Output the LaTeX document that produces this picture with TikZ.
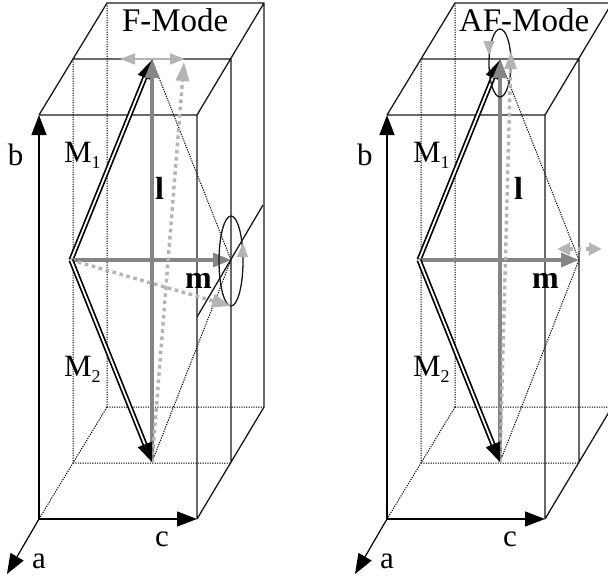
\documentclass[tikz,border=0pt]{standalone}
\usepackage{fontspec}
\setmainfont{Liberation Serif}
\usetikzlibrary{arrows.meta,shapes.geometric}
\definecolor{midgray}{HTML}{858585}
\definecolor{lightgray2}{HTML}{B4B4B4}
\tikzset{
  solidline/.style={draw=black!90,line width=1.3pt},
  dotline/.style={draw=black,line width=1pt,dash pattern=on 1.2pt off 1.2pt},
  axisarrow/.style={draw=black,line width=1.2pt,-{Triangle[length=20pt,width=15pt]}},
  momentarrow/.style={draw=black,line width=1.7pt,double=white,double distance=1.8pt,-{Triangle[length=19pt,width=15pt]}},
  grayarrow/.style={draw=midgray,line width=3.2pt,-{Triangle[length=18pt,width=14pt]}},
  lightdots/.style={draw=lightgray2,line width=3.4pt,dash pattern=on 3.6pt off 3.6pt,-{Triangle[length=19pt,width=13pt]}},
  lightthin/.style={draw=lightgray2,line width=1.5pt},
  lighthead/.style={-{Triangle[length=14pt,width=11pt]}},
  lab/.style={inner sep=0pt,outer sep=0pt,anchor=base west,font=\fontsize{31}{31}\selectfont},
  modelab/.style={lab,font=\fontsize{33}{33}\selectfont},
  boldlab/.style={lab,font=\fontsize{32}{32}\selectfont\bfseries},
  orbit/.style={draw=black!90,line width=1.3pt,shape=ellipse,inner sep=0pt}
}
\newcommand{\sbs}[1]{\raisebox{-6pt}{\fontsize{18}{18}\selectfont #1}}
\newcommand{\cellbox}[2]{%
  \begin{scope}[xshift=#2pt]
  \coordinate (#1o) at (39,519);
  \coordinate (#1c) at (197,519);
  \coordinate (#1b) at (39,115);
  \coordinate (#1bc) at (197,115);
  \coordinate (#1mt) at (73,59);
  \coordinate (#1mtr) at (231,59);
  \coordinate (#1mb) at (73,463);
  \coordinate (#1mbr) at (231,463);
  \coordinate (#1kt) at (107,3);
  \coordinate (#1ktr) at (264,3);
  \coordinate (#1kb) at (107,407);
  \coordinate (#1kbr) at (264,407);
  \coordinate (#1a) at (7,574);
  \coordinate (#1L) at (71,260);
  \coordinate (#1R) at (231,260);
  \coordinate (#1T) at (152,60);
  \coordinate (#1B) at (152,462);
  \draw[dotline] (#1kt) -- (#1kb) (#1mt) -- (#1mb) (#1o) -- (#1kb) (#1mb) -- (#1mbr) (#1kb) -- (#1kbr);
  \draw[dotline] (#1T) -- (#1R) -- (#1B);
  \draw[solidline] (#1b) -- (#1bc) -- (#1c) (#1b) -- (#1kt) -- (#1ktr) -- (#1kbr) -- (#1c)
     (#1mt) -- (#1mtr) -- (#1mbr) (#1bc) -- (#1ktr);
  \draw[axisarrow] (#1o) -- (#1b);
  \draw[axisarrow] (#1o) -- (#1c);
  \draw[axisarrow] (#1o) -- (#1a);
  \draw[momentarrow] (#1L) -- (#1T);
  \draw[grayarrow] (#1B) -- (#1T);
  \draw[grayarrow] (#1L) -- (#1R);
  \end{scope}}
\begin{document}
\begin{tikzpicture}[x=1pt,y=-1pt]
\useasboundingbox (0,0) rectangle (608,581);
\fill[white] (0,0) rectangle (608,581);
\clip (0,0) rectangle (608,581);

% ---------- F-mode ----------
\cellbox{f}{0}
\coordinate (fpa) at (197,317);
\coordinate (fpb) at (263,205);
\draw[solidline] (fpa) -- (fpb);
\node[orbit,minimum width=24pt,minimum height=90pt] (fring) at (231,261) {};
\coordinate (ftopl) at (120,59);
\coordinate (ftopr) at (185,59);
\draw[lightthin,{Triangle[length=15pt,width=11pt]}-{Triangle[length=15pt,width=11pt]}] (ftopl) -- (ftopr);
\coordinate (fup) at (184,62);
\draw[lightdots] (fB) -- (fup);
\coordinate (fside) at (231,306);
\draw[lightdots] (fL) -- (fside);
\coordinate (fsa) at (242.6,255);
\coordinate (fsb) at (243,243);
\draw[draw=lightgray2,line width=0.8pt,lighthead] (fsa) -- (fsb);
\draw[momentarrow] (fL) -- (fB);
\node[modelab] (ftitle) at (122,31) {F-Mode};
\node[lab] (flb) at (8,165) {b};
\node[lab] (flm1) at (64,162) {M\sbs{1}};
\node[lab] (flm2) at (64,376) {M\sbs{2}};
\node[boldlab] (fll) at (155,199) {l};
\node[boldlab] (flmm) at (185,288) {m};
\node[lab] (flc) at (155,546) {c};
\node[lab] (fla) at (32,568) {a};

% ---------- AF-mode ----------
\cellbox{g}{348}
\node[orbit,minimum width=22pt,minimum height=68pt] (gring) at (500,63) {};
\coordinate (gup) at (511,51);
\coordinate (gdb) at (500,462);
\draw[lightdots,-{Triangle[length=18pt,width=11.5pt]}] (gdb) -- (gup);
\coordinate (gda) at (489,42);
\coordinate (gdc) at (489,55);
\draw[draw=lightgray2,line width=0.8pt,lighthead] (gda) -- (gdc);
\coordinate (gsl) at (557,249);
\coordinate (gsr) at (602,249);
\draw[draw=lightgray2,line width=3.4pt,dash pattern=on 3.6pt off 5pt,{Triangle[length=13pt,width=12pt]}-{Triangle[length=13pt,width=12pt]}] (gsl) -- (gsr);
\draw[momentarrow] (gL) -- (gB);
\node[modelab] (gtitle) at (459,31) {AF-Mode};
\node[lab] (glb) at (357,165) {b};
\node[lab] (glm1) at (413,162) {M\sbs{1}};
\node[lab] (glm2) at (413,376) {M\sbs{2}};
\node[boldlab] (gll) at (514,199) {l};
\node[boldlab] (glmm) at (532,288) {m};
\node[lab] (glc) at (503,546) {c};
\node[lab] (gla) at (380,568) {a};
\end{tikzpicture}
\end{document}
